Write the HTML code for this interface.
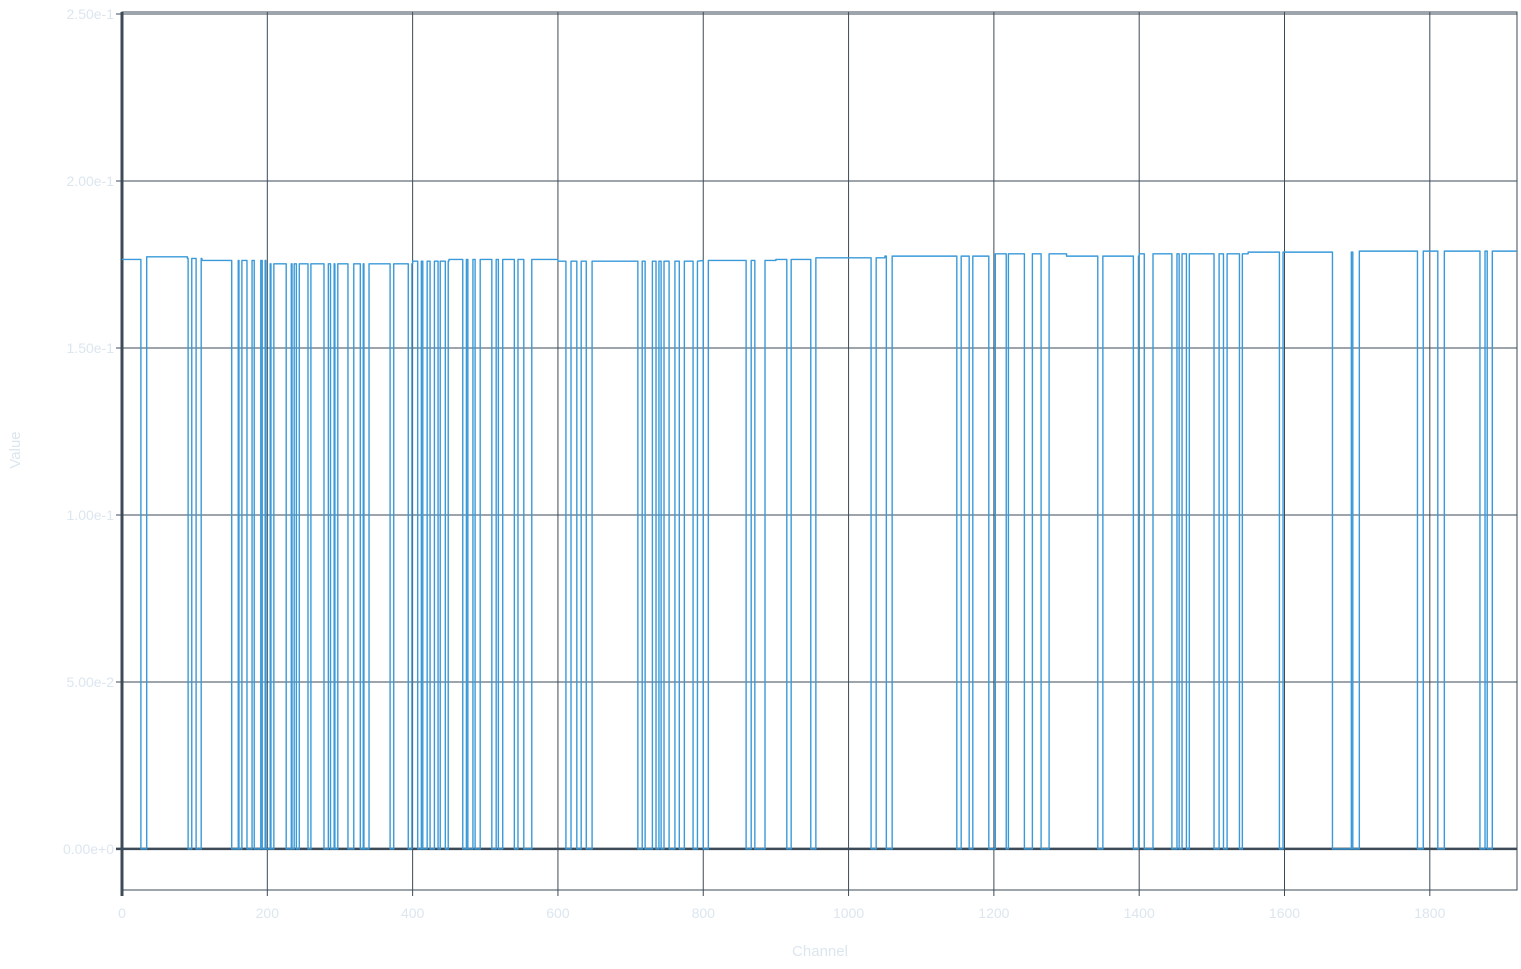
<!DOCTYPE html>
<html><head><meta charset="utf-8"><style>
body{margin:0;background:#fff;}
svg{display:block;font-family:"Liberation Sans",sans-serif;}
</style></head><body>
<svg id="chart" width="1521" height="969"></svg>
<script>
const xTicks=[0,200,400,600,800,1000,1200,1400,1600,1800];
const yTicks=[0,0.05,0.10,0.15,0.20,0.25];
const yTickLabels=["0.00e+0","5.00e-2","1.00e-1","1.50e-1","2.00e-1","2.50e-1"];
const levelChannels=[0,30,90,110,200,300,400,450,600,700,800,900,950,1050,1200,1300,1400,1550,1700];
const levelValues=[0.1765,0.1773,0.1768,0.1762,0.1752,0.1752,0.1760,0.1765,0.1760,0.1760,0.1762,0.1765,0.1770,0.1775,0.1782,0.1775,0.1782,0.1787,0.1790];
const dropStarts=[26,91,102,151,161,172,182,193,198,205,226,234,240,256,278,287,293,311,328,333,369,394,407,414,424,435,445,469,476,486,509,518,540,553,611,626,639,710,720,735,742,753,767,786,800,859,871,915,948,1031,1052,1149,1166,1193,1217,1242,1265,1343,1392,1407,1445,1455,1465,1503,1516,1538,1593,1666,1694,1783,1811,1869,1879];
const dropEnds=[34,96,109,160,165,179,191,197,204,209,233,237,244,260,284,292,297,319,332,340,374,399,412,420,430,438,449,474,483,493,515,524,545,564,618,632,647,716,730,739,746,761,774,792,807,866,885,921,955,1038,1060,1155,1171,1202,1220,1253,1276,1350,1399,1419,1452,1459,1469,1510,1521,1542,1598,1692,1703,1791,1820,1876,1886];
const X0=122,X1=1517,Y0=890,Y1=12,xMax=1920,yMin=-0.0123,yMax=0.2506;
const xs=c=>X0+(c/xMax)*(X1-X0);
const ys=v=>Y0-(v-yMin)/(yMax-yMin)*(Y0-Y1);
const svg=document.getElementById('chart');
const NS="http://www.w3.org/2000/svg";
function mk(t,a,p){const e=document.createElementNS(NS,t);for(const k in a)e.setAttribute(k,a[k]);(p||svg).appendChild(e);return e;}
function level(c){let v=levelValues[0];for(let i=0;i<levelChannels.length;i++){if(c>=levelChannels[i])v=levelValues[i];}return v;}
// grid
xTicks.forEach(t=>{const l=mk('line',{x1:xs(t),x2:xs(t),y1:Y1,y2:Y0+6,stroke:'#3d4a57','stroke-width':1});


const tx=mk('text',{x:xs(t),y:918,'text-anchor':'middle','font-size':14,fill:'#dce6ef'});tx.textContent=t;

});
yTicks.forEach((t,i)=>{const l=mk('line',{x1:X0-6,x2:X1,y1:ys(t),y2:ys(t),stroke:'#3d4a57','stroke-width':t===0?2.5:1});


const tx=mk('text',{x:X0-8,y:ys(t)+5,'text-anchor':'end','font-size':14,fill:'#dce6ef'});tx.textContent=yTickLabels[i];

});
const fr=mk('rect',{x:X0,y:Y1,width:X1-X0,height:Y0-Y1,fill:'none',stroke:'#3d4a57','stroke-width':1});


const ya=mk('line',{x1:X0,x2:X0,y1:Y1,y2:Y0+6,stroke:'#3d4a57','stroke-width':3});


// series
let d='M'+xs(0)+','+ys(level(0));
let cur=0;
for(let i=0;i<dropStarts.length;i++){
  const s=dropStarts[i],e=Math.min(dropEnds[i],xMax);
  levelChannels.forEach((lc,j)=>{if(lc>cur&&lc<s){d+='L'+xs(lc)+','+ys(level(lc-0.01))+'L'+xs(lc)+','+ys(levelValues[j]);}});
  d+='L'+xs(s)+','+ys(level(s))+'L'+xs(s)+','+ys(0)+'L'+xs(e)+','+ys(0)+'L'+xs(e)+','+ys(level(e));
  cur=e;
}
levelChannels.forEach((lc,j)=>{if(lc>cur){d+='L'+xs(lc)+','+ys(level(lc-0.01))+'L'+xs(lc)+','+ys(levelValues[j]);}});
d+='L'+xs(xMax)+','+ys(level(xMax));
const p=mk('path',{d:d,fill:'none',stroke:'#3a9ad9','stroke-width':1.4,'stroke-linejoin':'round'});


const xt=mk('text',{x:820,y:956,'text-anchor':'middle','font-size':15,fill:'#dce6ef'});xt.textContent='Channel';


const yt=mk('text',{x:0,y:0,'text-anchor':'middle','font-size':15,fill:'#dce6ef',transform:'translate(20,450) rotate(-90)'});yt.textContent='Value';


</script>
</body></html>
